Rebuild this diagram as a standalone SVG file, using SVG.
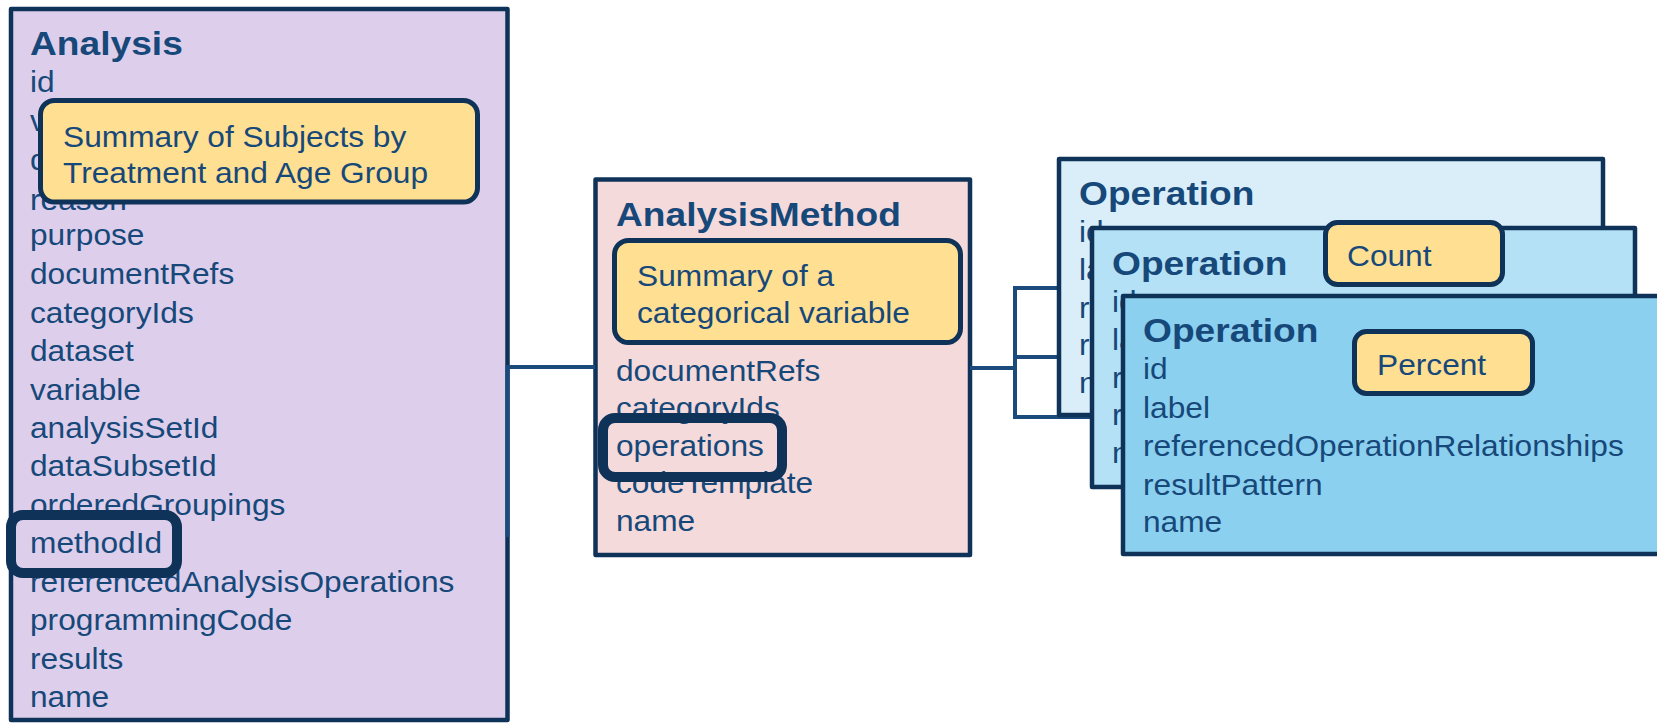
<svg xmlns="http://www.w3.org/2000/svg" width="1657" height="724" viewBox="0 0 1657 724">
<style>
text{font-family:"Liberation Sans",Arial,sans-serif;fill:#17487A;}
.t{font-size:34px;font-weight:bold;}
.a{font-size:29px;}
.box{stroke:#0F3259;stroke-width:4.5;stroke-linejoin:round;}
.call{fill:#FFDF91;stroke:#0F3259;stroke-width:5;}
.hl{fill:none;stroke:#0F3259;stroke-width:10;}
.conn{fill:none;stroke:#1B4B7D;stroke-width:4;}
</style>
<rect width="1657" height="724" fill="#FFFFFF"/>

<g id="analysis">
<rect class="box" x="11" y="9" width="496.5" height="711" fill="#DDCFEB"/>
<g transform="translate(30,0) scale(1.093,1)">
<text class="t" x="0" y="55">Analysis</text>
<text class="a" x="0" y="92">id</text>
<text class="a" x="0" y="131">version</text>
<text class="a" x="0" y="170">description</text>
<text class="a" x="0" y="210">reason</text>
<text class="a" x="0" y="245.5">purpose</text>
<text class="a" x="0" y="284.5">documentRefs</text>
<text class="a" x="0" y="323">categoryIds</text>
<text class="a" x="0" y="361.5">dataset</text>
<text class="a" x="0" y="400">variable</text>
<text class="a" x="0" y="438.5">analysisSetId</text>
<text class="a" x="0" y="476.5">dataSubsetId</text>
<text class="a" x="0" y="515">orderedGroupings</text>
<text class="a" x="0" y="553.5">methodId</text>
<text class="a" x="0" y="592">referencedAnalysisOperations</text>
<text class="a" x="0" y="630.5">programmingCode</text>
<text class="a" x="0" y="669">results</text>
<text class="a" x="0" y="707">name</text>
</g>
<rect class="hl" x="11" y="515" width="166" height="58" rx="12"/>
</g>

<g id="analysis-callout">
<rect class="call" x="40.5" y="100.5" width="437" height="101.5" rx="14"/>
<g transform="translate(63,0) scale(1.093,1)">
<text class="a" x="0" y="147">Summary of Subjects by</text>
<text class="a" x="0" y="183">Treatment and Age Group</text>
</g>
</g>

<g id="analysismethod">
<rect class="box" x="595.5" y="179.5" width="374.5" height="375.5" fill="#F4DADB"/>
<g transform="translate(616,0) scale(1.093,1)">
<text class="t" x="0" y="226">AnalysisMethod</text>
<text class="a" x="0" y="381">documentRefs</text>
<text class="a" x="0" y="418.5">categoryIds</text>
<text class="a" x="0" y="456">operations</text>
<text class="a" x="0" y="493.5">codeTemplate</text>
<text class="a" x="0" y="531">name</text>
</g>
<rect class="hl" x="603" y="418" width="179" height="59" rx="12"/>
</g>

<g id="method-callout">
<rect class="call" x="614.5" y="240.5" width="346" height="102" rx="14"/>
<g transform="translate(637,0) scale(1.093,1)">
<text class="a" x="0" y="286">Summary of a</text>
<text class="a" x="0" y="323">categorical variable</text>
</g>
</g>

<g id="connectors">
<path class="conn" d="M507.5,537 L507.5,367 L595,367"/>
<path class="conn" d="M970,368 L1015,368"/>
<path class="conn" d="M1059,288 L1015,288 L1015,417 L1123,417"/>
<path class="conn" d="M1015,357 L1092,357"/>
</g>

<g id="operation1">
<rect class="box" x="1059" y="159" width="544" height="256" fill="#D9EEF9"/>
<g transform="translate(1079,0) scale(1.093,1)">
<text class="t" x="0" y="205">Operation</text>
<text class="a" x="0" y="242">id</text>
<text class="a" x="0" y="280">label</text>
<text class="a" x="0" y="318">referencedOperationRelationships</text>
<text class="a" x="0" y="355">resultPattern</text>
<text class="a" x="0" y="393">name</text>
</g>
</g>

<g id="operation2">
<rect class="box" x="1092" y="228" width="543" height="259" fill="#B4E1F5"/>
<g transform="translate(1112,0) scale(1.093,1)">
<text class="t" x="0" y="275">Operation</text>
<text class="a" x="0" y="312">id</text>
<text class="a" x="0" y="350">label</text>
<text class="a" x="0" y="388">referencedOperationRelationships</text>
<text class="a" x="0" y="425">resultPattern</text>
<text class="a" x="0" y="463">name</text>
</g>
</g>

<g id="count-callout">
<rect class="call" x="1325.5" y="222.5" width="177" height="62" rx="12"/>
<g transform="translate(1347,0) scale(1.093,1)">
<text class="a" x="0" y="266">Count</text>
</g>
</g>

<g id="operation3">
<rect class="box" x="1123" y="296" width="600" height="258" fill="#8CD0EF"/>
<g transform="translate(1143,0) scale(1.093,1)">
<text class="t" x="0" y="342">Operation</text>
<text class="a" x="0" y="379">id</text>
<text class="a" x="0" y="418">label</text>
<text class="a" x="0" y="456">referencedOperationRelationships</text>
<text class="a" x="0" y="495">resultPattern</text>
<text class="a" x="0" y="532">name</text>
</g>
</g>

<g id="percent-callout">
<rect class="call" x="1354.5" y="331.5" width="178" height="62" rx="12"/>
<g transform="translate(1377,0) scale(1.093,1)">
<text class="a" x="0" y="375">Percent</text>
</g>
</g>
</svg>
